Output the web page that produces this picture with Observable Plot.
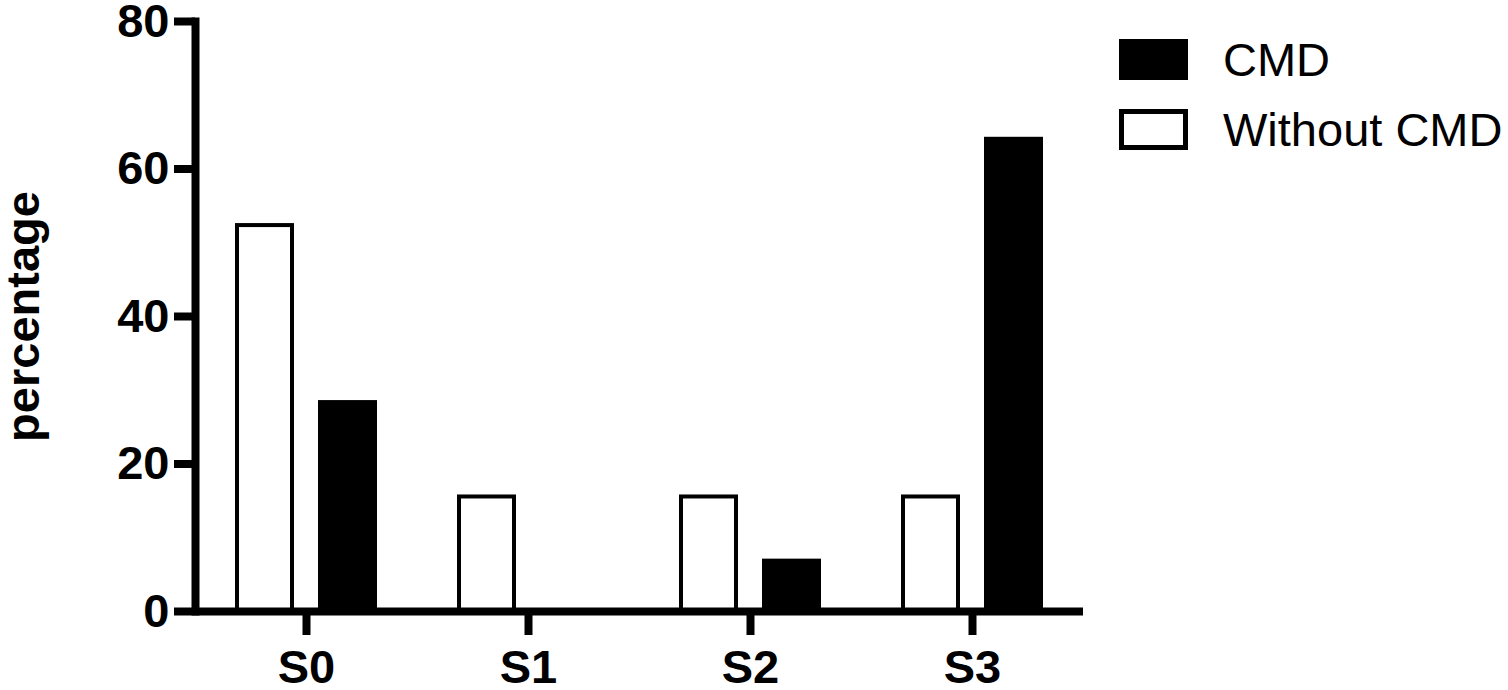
<!DOCTYPE html>
<html><head><meta charset="utf-8">
<script src="https://cdn.jsdelivr.net/npm/d3@7"></script>
<script src="https://cdn.jsdelivr.net/npm/@observablehq/plot@0.6"></script>
<style>
body{margin:0;background:#fff;}
#wrap{position:relative;width:1508px;height:690px;font-family:"Liberation Sans",Arial,sans-serif;}
#legend{position:absolute;left:1119px;top:39px;}
.item{display:flex;align-items:center;height:41px;margin-bottom:29px;}
.sw{width:69px;height:41px;box-sizing:border-box;margin-right:35px;}
.lab{font-size:47px;line-height:41px;color:#000;}
</style></head><body><div id="wrap"><div id="legend"></div></div>
<script>
const stages = ["S0", "S1", "S2", "S3"];
const groups = ["Without CMD", "CMD"];
const withoutCMD = [52.6, 15.8, 15.8, 15.8];
const cmd = [28.6, 0, 7.1, 64.3];
const yTicks = [0, 20, 40, 60, 80];
const legendOrder = ["CMD", "Without CMD"];

const data = stages.flatMap((s, i) => [
  {stage: s, group: "Without CMD", value: withoutCMD[i]},
  {stage: s, group: "CMD", value: cmd[i]}
]);

const chart = Plot.plot({
  width: 1508, height: 690,
  marginLeft: 194, marginRight: 425, marginTop: 21, marginBottom: 79,
  style: {fontFamily: "Liberation Sans, Arial, sans-serif", background: "white", overflow: "visible", color: "black"},
  fx: {domain: stages, padding: 0, axis: null},
  x: {domain: groups, paddingInner: 24 / 84, paddingOuter: 0.466, axis: null},
  y: {domain: [0, 80], axis: null},
  marks: [
    Plot.barY(data.filter(d => d.group === "Without CMD"), {fx: "stage", x: "group", y: "value", fill: "white", stroke: "black", strokeWidth: 4, insetLeft: 2, insetRight: 2, insetTop: 2}),
    Plot.barY(data.filter(d => d.group === "CMD"), {fx: "stage", x: "group", y: "value", fill: "black"}),
    Plot.ruleY([0], {stroke: "black", strokeWidth: 8}),
    Plot.frame({anchor: "left", fx: ["S0"], stroke: "black", strokeWidth: 8, strokeLinecap: "square"}),
    Plot.axisY({ticks: yTicks, tickSize: 21, tickPadding: 5, strokeWidth: 8, fontSize: 47, fontWeight: "bold", tickFormat: d => d, label: "percentage", labelAnchor: "center", labelOffset: 190, labelArrow: false}),
    Plot.axisFx({anchor: "bottom", tickSize: 24, tickPadding: 14, strokeWidth: 8, fontSize: 47, fontWeight: "bold", label: null})
  ]
});
document.getElementById("wrap").prepend(chart);

const legend = document.getElementById("legend");
legendOrder.forEach(g => {
  const item = document.createElement("div");
  item.className = "item";
  const sw = document.createElement("div");
  sw.className = "sw";
  if (g === "CMD") { sw.style.background = "#000"; }
  else { sw.style.background = "#fff"; sw.style.border = "5px solid #000"; }
  const lab = document.createElement("span");
  lab.className = "lab";
  lab.textContent = g;
  item.append(sw, lab);
  legend.append(item);
});
</script></body></html>
